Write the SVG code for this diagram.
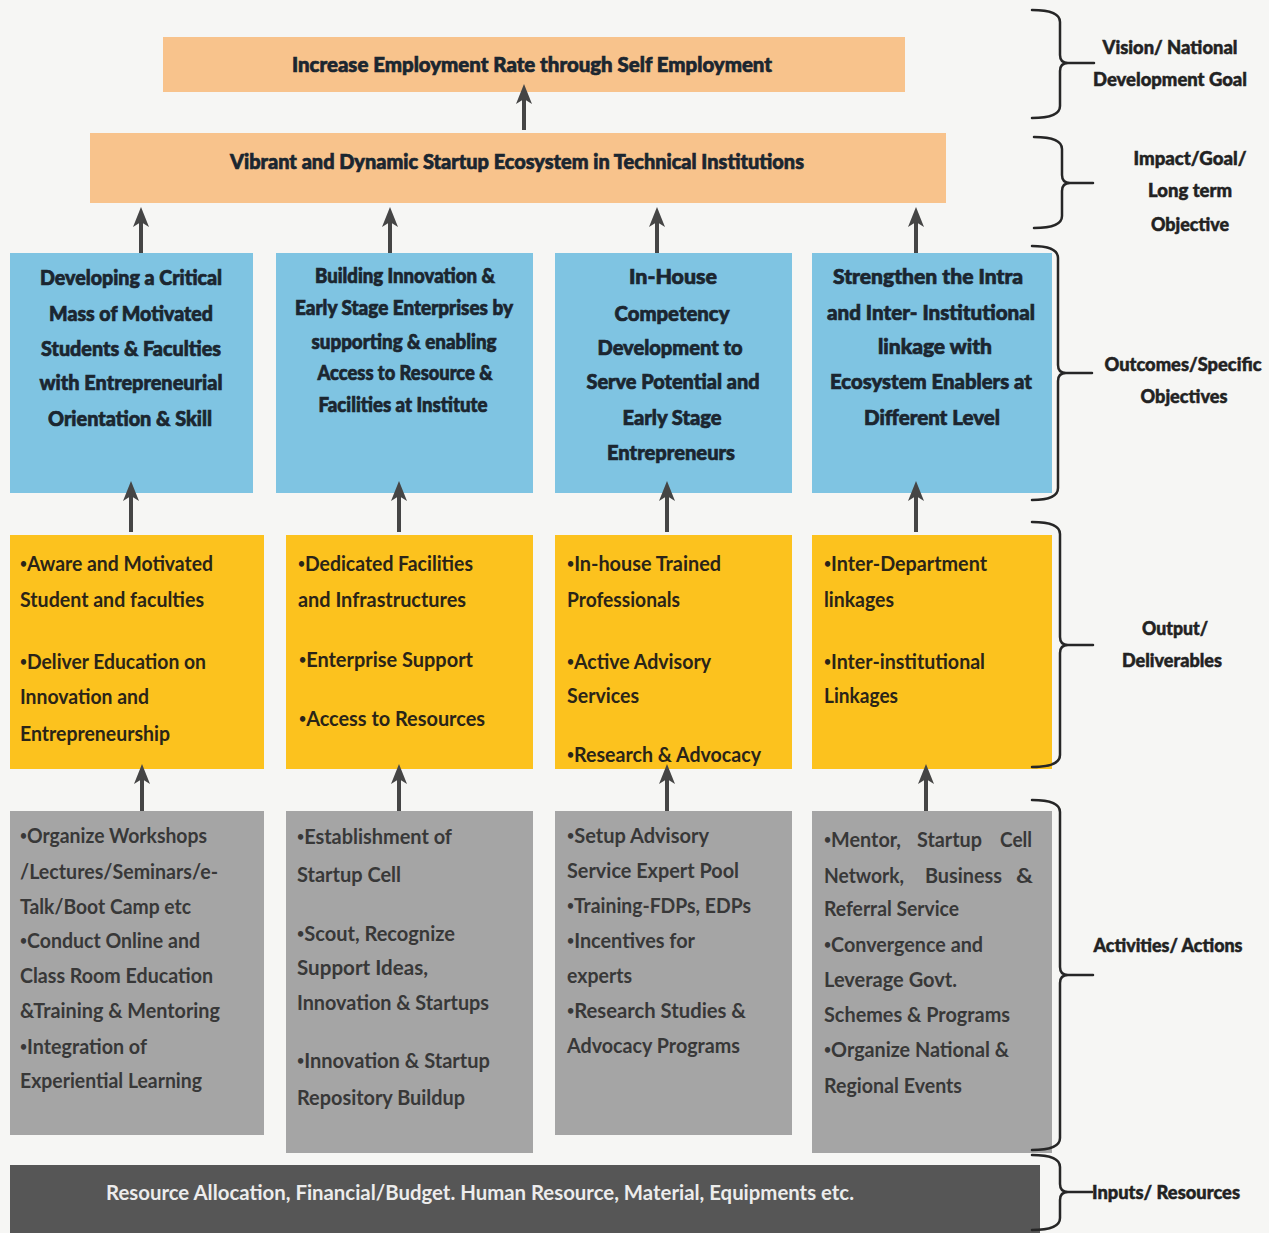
<svg xmlns="http://www.w3.org/2000/svg" width="1269" height="1233" viewBox="0 0 1269 1233">
  <style>
    .bg { fill: #f6f6f4; }
    .goal { fill: #f8c38c; }
    .blue { fill: #7fc4e2; }
    .yellow { fill: #fcc21e; }
    .gray { fill: #a5a5a5; }
    .dark { fill: #565656; }
    text { font-family: Lato, "Liberation Sans", sans-serif; }
    .h { font-size: 21px; font-weight: 900; fill: #1b2630; stroke: #1b2630; stroke-width: 0.7; text-anchor: middle; }
    .hs { font-size: 20px; font-weight: 900; fill: #1b2630; stroke: #1b2630; stroke-width: 0.7; text-anchor: middle; }
    .y { font-size: 21px; font-weight: 700; fill: #2a2418; }
    .g { font-size: 21px; font-weight: 700; fill: #383838; }
    .w { font-size: 20px; font-weight: 700; fill: #ececec; text-anchor: middle; }
    .lab { font-size: 19px; font-weight: 900; fill: #222; stroke: #222; stroke-width: 0.5; text-anchor: middle; }
    .b { font-size: 13px; }
    .brace { fill: none; stroke: #262626; stroke-width: 2.5; stroke-linecap: round; stroke-linejoin: round; }
    .conn { stroke: #454545; stroke-width: 4; }
  </style>
  <defs>
    <marker id="head" viewBox="0 0 20 20" refX="10" refY="10" markerWidth="20" markerHeight="20" markerUnits="userSpaceOnUse" orient="auto">
      <path d="M0,2 L20,10 L0,18 L5,10 Z" fill="#454545"/>
    </marker>
  </defs>

  <rect class="bg" x="0" y="0" width="1269" height="1233"/>

  <!-- goal level -->
  <g id="vision">
    <rect class="goal" x="163" y="37" width="742" height="55"/>
    <text class="h" x="532" y="72" textLength="480" lengthAdjust="spacingAndGlyphs">Increase Employment Rate through Self Employment</text>
  </g>
  <g id="impact">
    <rect class="goal" x="90" y="133" width="856" height="70"/>
    <text class="h" x="517" y="169" textLength="574" lengthAdjust="spacingAndGlyphs">Vibrant and Dynamic Startup Ecosystem in Technical Institutions</text>
  </g>

  <!-- outcomes -->
  <g id="outcome-1">
    <rect class="blue" x="10" y="253" width="243" height="240"/>
    <text class="h" x="131" y="285" textLength="182" lengthAdjust="spacingAndGlyphs">Developing a Critical</text>
    <text class="h" x="131" y="321" textLength="164" lengthAdjust="spacingAndGlyphs">Mass of Motivated</text>
    <text class="h" x="131" y="356" textLength="180" lengthAdjust="spacingAndGlyphs">Students &amp; Faculties</text>
    <text class="h" x="131" y="390" textLength="183" lengthAdjust="spacingAndGlyphs">with Entrepreneurial</text>
    <text class="h" x="130" y="426" textLength="164" lengthAdjust="spacingAndGlyphs">Orientation &amp; Skill</text>
  </g>
  <g id="outcome-2">
    <rect class="blue" x="276" y="253" width="257" height="240"/>
    <text class="hs" x="405" y="283" textLength="180" lengthAdjust="spacingAndGlyphs">Building Innovation &amp;</text>
    <text class="hs" x="404" y="315" textLength="218" lengthAdjust="spacingAndGlyphs">Early Stage  Enterprises by</text>
    <text class="hs" x="404" y="349" textLength="185" lengthAdjust="spacingAndGlyphs">supporting &amp; enabling</text>
    <text class="hs" x="405" y="380" textLength="175" lengthAdjust="spacingAndGlyphs">Access to Resource &amp;</text>
    <text class="hs" x="403" y="412" textLength="169" lengthAdjust="spacingAndGlyphs">Facilities at Institute</text>
  </g>
  <g id="outcome-3">
    <rect class="blue" x="555" y="253" width="237" height="240"/>
    <text class="h" x="673" y="284" textLength="88" lengthAdjust="spacingAndGlyphs">In-House</text>
    <text class="h" x="672" y="321" textLength="115" lengthAdjust="spacingAndGlyphs">Competency</text>
    <text class="h" x="670" y="355" textLength="145" lengthAdjust="spacingAndGlyphs">Development to</text>
    <text class="h" x="673" y="389" textLength="173" lengthAdjust="spacingAndGlyphs">Serve Potential and</text>
    <text class="h" x="672" y="425" textLength="99" lengthAdjust="spacingAndGlyphs">Early Stage</text>
    <text class="h" x="671" y="460" textLength="128" lengthAdjust="spacingAndGlyphs">Entrepreneurs</text>
  </g>
  <g id="outcome-4">
    <rect class="blue" x="812" y="253" width="240" height="240"/>
    <text class="h" x="928" y="284" textLength="190" lengthAdjust="spacingAndGlyphs">Strengthen the Intra</text>
    <text class="h" x="931" y="320" textLength="208" lengthAdjust="spacingAndGlyphs">and Inter- Institutional</text>
    <text class="h" x="935" y="354" textLength="114" lengthAdjust="spacingAndGlyphs">linkage  with</text>
    <text class="h" x="931" y="389" textLength="202" lengthAdjust="spacingAndGlyphs">Ecosystem  Enablers at</text>
    <text class="h" x="932" y="425" textLength="136" lengthAdjust="spacingAndGlyphs">Different  Level</text>
  </g>

  <!-- outputs -->
  <g id="output-1">
    <rect class="yellow" x="10" y="535" width="254" height="234"/>
    <text class="y" x="20" y="571" textLength="193" lengthAdjust="spacingAndGlyphs"><tspan class="b" baseline-shift="3">•</tspan>Aware and Motivated</text>
    <text class="y" x="20" y="607" textLength="184" lengthAdjust="spacingAndGlyphs">Student and faculties</text>
    <text class="y" x="20" y="669" textLength="186" lengthAdjust="spacingAndGlyphs"><tspan class="b" baseline-shift="3">•</tspan>Deliver Education on</text>
    <text class="y" x="20" y="704" textLength="129" lengthAdjust="spacingAndGlyphs">Innovation and</text>
    <text class="y" x="20" y="741" textLength="150" lengthAdjust="spacingAndGlyphs">Entrepreneurship</text>
  </g>
  <g id="output-2">
    <rect class="yellow" x="286" y="535" width="247" height="234"/>
    <text class="y" x="298" y="571" textLength="175" lengthAdjust="spacingAndGlyphs"><tspan class="b" baseline-shift="3">•</tspan>Dedicated Facilities</text>
    <text class="y" x="298" y="607" textLength="168" lengthAdjust="spacingAndGlyphs">and Infrastructures</text>
    <text class="y" x="299" y="667" textLength="174" lengthAdjust="spacingAndGlyphs"><tspan class="b" baseline-shift="3">•</tspan>Enterprise Support</text>
    <text class="y" x="299" y="726" textLength="186" lengthAdjust="spacingAndGlyphs"><tspan class="b" baseline-shift="3">•</tspan>Access to Resources</text>
  </g>
  <g id="output-3">
    <rect class="yellow" x="555" y="535" width="237" height="234"/>
    <text class="y" x="567" y="571" textLength="154" lengthAdjust="spacingAndGlyphs"><tspan class="b" baseline-shift="3">•</tspan>In-house Trained</text>
    <text class="y" x="567" y="607" textLength="113" lengthAdjust="spacingAndGlyphs">Professionals</text>
    <text class="y" x="567" y="669" textLength="144" lengthAdjust="spacingAndGlyphs"><tspan class="b" baseline-shift="3">•</tspan>Active Advisory</text>
    <text class="y" x="567" y="703" textLength="72" lengthAdjust="spacingAndGlyphs">Services</text>
    <text class="y" x="567" y="762" textLength="194" lengthAdjust="spacingAndGlyphs"><tspan class="b" baseline-shift="3">•</tspan>Research &amp; Advocacy</text>
  </g>
  <g id="output-4">
    <rect class="yellow" x="812" y="535" width="240" height="234"/>
    <text class="y" x="824" y="571" textLength="163" lengthAdjust="spacingAndGlyphs"><tspan class="b" baseline-shift="3">•</tspan>Inter-Department</text>
    <text class="y" x="824" y="607" textLength="70" lengthAdjust="spacingAndGlyphs">linkages</text>
    <text class="y" x="824" y="669" textLength="161" lengthAdjust="spacingAndGlyphs"><tspan class="b" baseline-shift="3">•</tspan>Inter-institutional</text>
    <text class="y" x="824" y="703" textLength="74" lengthAdjust="spacingAndGlyphs">Linkages</text>
  </g>

  <!-- activities -->
  <g id="activity-1">
    <rect class="gray" x="10" y="811" width="254" height="324"/>
    <text class="g" x="20" y="843" textLength="187" lengthAdjust="spacingAndGlyphs"><tspan class="b" baseline-shift="3">•</tspan>Organize Workshops</text>
    <text class="g" x="20" y="879" textLength="198" lengthAdjust="spacingAndGlyphs">/Lectures/Seminars/e-</text>
    <text class="g" x="20" y="914" textLength="171" lengthAdjust="spacingAndGlyphs">Talk/Boot Camp etc</text>
    <text class="g" x="20" y="948" textLength="180" lengthAdjust="spacingAndGlyphs"><tspan class="b" baseline-shift="3">•</tspan>Conduct Online and</text>
    <text class="g" x="20" y="983" textLength="193" lengthAdjust="spacingAndGlyphs">Class Room Education</text>
    <text class="g" x="20" y="1018" textLength="200" lengthAdjust="spacingAndGlyphs">&amp;Training &amp; Mentoring</text>
    <text class="g" x="20" y="1054" textLength="127" lengthAdjust="spacingAndGlyphs"><tspan class="b" baseline-shift="3">•</tspan>Integration of</text>
    <text class="g" x="20" y="1088" textLength="182" lengthAdjust="spacingAndGlyphs">Experiential Learning</text>
  </g>
  <g id="activity-2">
    <rect class="gray" x="286" y="811" width="247" height="342"/>
    <text class="g" x="297" y="844" textLength="155" lengthAdjust="spacingAndGlyphs"><tspan class="b" baseline-shift="3">•</tspan>Establishment of</text>
    <text class="g" x="297" y="882" textLength="104" lengthAdjust="spacingAndGlyphs">Startup Cell</text>
    <text class="g" x="297" y="941" textLength="158" lengthAdjust="spacingAndGlyphs"><tspan class="b" baseline-shift="3">•</tspan>Scout, Recognize</text>
    <text class="g" x="297" y="975" textLength="131" lengthAdjust="spacingAndGlyphs">Support Ideas,</text>
    <text class="g" x="297" y="1010" textLength="192" lengthAdjust="spacingAndGlyphs">Innovation &amp; Startups</text>
    <text class="g" x="297" y="1068" textLength="193" lengthAdjust="spacingAndGlyphs"><tspan class="b" baseline-shift="3">•</tspan>Innovation &amp; Startup</text>
    <text class="g" x="297" y="1105" textLength="168" lengthAdjust="spacingAndGlyphs">Repository Buildup</text>
  </g>
  <g id="activity-3">
    <rect class="gray" x="555" y="811" width="237" height="324"/>
    <text class="g" x="567" y="843" textLength="142" lengthAdjust="spacingAndGlyphs"><tspan class="b" baseline-shift="3">•</tspan>Setup Advisory</text>
    <text class="g" x="567" y="878" textLength="172" lengthAdjust="spacingAndGlyphs">Service Expert Pool</text>
    <text class="g" x="567" y="913" textLength="184" lengthAdjust="spacingAndGlyphs"><tspan class="b" baseline-shift="3">•</tspan>Training-FDPs, EDPs</text>
    <text class="g" x="567" y="948" textLength="128" lengthAdjust="spacingAndGlyphs"><tspan class="b" baseline-shift="3">•</tspan>Incentives for</text>
    <text class="g" x="567" y="983" textLength="65" lengthAdjust="spacingAndGlyphs">experts</text>
    <text class="g" x="567" y="1018" textLength="179" lengthAdjust="spacingAndGlyphs"><tspan class="b" baseline-shift="3">•</tspan>Research Studies &amp;</text>
    <text class="g" x="567" y="1053" textLength="173" lengthAdjust="spacingAndGlyphs">Advocacy Programs</text>
  </g>
  <g id="activity-4">
    <rect class="gray" x="812" y="811" width="240" height="342"/>
    <text class="g" x="824" y="847" textLength="77" lengthAdjust="spacingAndGlyphs"><tspan class="b" baseline-shift="3">•</tspan>Mentor,</text>
    <text class="g" x="917" y="847" textLength="65" lengthAdjust="spacingAndGlyphs">Startup</text>
    <text class="g" x="1000" y="847" textLength="32" lengthAdjust="spacingAndGlyphs">Cell</text>
    <text class="g" x="824" y="883" textLength="80" lengthAdjust="spacingAndGlyphs">Network,</text>
    <text class="g" x="925" y="883" textLength="77" lengthAdjust="spacingAndGlyphs">Business</text>
    <text class="g" x="1016" y="883" textLength="17" lengthAdjust="spacingAndGlyphs">&amp;</text>
    <text class="g" x="824" y="916" textLength="135" lengthAdjust="spacingAndGlyphs">Referral Service</text>
    <text class="g" x="824" y="952" textLength="159" lengthAdjust="spacingAndGlyphs"><tspan class="b" baseline-shift="3">•</tspan>Convergence and</text>
    <text class="g" x="824" y="987" textLength="133" lengthAdjust="spacingAndGlyphs">Leverage Govt.</text>
    <text class="g" x="824" y="1022" textLength="186" lengthAdjust="spacingAndGlyphs">Schemes &amp; Programs</text>
    <text class="g" x="824" y="1057" textLength="185" lengthAdjust="spacingAndGlyphs"><tspan class="b" baseline-shift="3">•</tspan>Organize National &amp;</text>
    <text class="g" x="824" y="1093" textLength="138" lengthAdjust="spacingAndGlyphs">Regional Events</text>
  </g>

  <!-- inputs -->
  <g id="inputs">
    <rect class="dark" x="10" y="1165" width="1030" height="68"/>
    <text class="w" x="480" y="1200" textLength="748" lengthAdjust="spacingAndGlyphs">Resource Allocation, Financial/Budget. Human Resource, Material, Equipments etc.</text>
  </g>

  <!-- upward connectors between levels -->
  <g id="connectors">
    <line class="conn" x1="524" y1="130" x2="524" y2="94" marker-end="url(#head)"/>
    <line class="conn" x1="141" y1="253" x2="141" y2="217" marker-end="url(#head)"/>
    <line class="conn" x1="390" y1="253" x2="390" y2="217" marker-end="url(#head)"/>
    <line class="conn" x1="657" y1="253" x2="657" y2="217" marker-end="url(#head)"/>
    <line class="conn" x1="916" y1="253" x2="916" y2="217" marker-end="url(#head)"/>
    <line class="conn" x1="131" y1="532" x2="131" y2="491" marker-end="url(#head)"/>
    <line class="conn" x1="399" y1="532" x2="399" y2="491" marker-end="url(#head)"/>
    <line class="conn" x1="667" y1="532" x2="667" y2="491" marker-end="url(#head)"/>
    <line class="conn" x1="916" y1="532" x2="916" y2="491" marker-end="url(#head)"/>
    <line class="conn" x1="142" y1="811" x2="142" y2="774" marker-end="url(#head)"/>
    <line class="conn" x1="399" y1="811" x2="399" y2="774" marker-end="url(#head)"/>
    <line class="conn" x1="667" y1="811" x2="667" y2="774" marker-end="url(#head)"/>
    <line class="conn" x1="926" y1="811" x2="926" y2="774" marker-end="url(#head)"/>
  </g>

  <!-- level braces -->
  <g id="braces">
    <path class="brace" d="M1032,10 Q1060,10 1060,22 L1060,55 Q1060,63 1068,63 L1094,63 M1068,63 Q1060,63 1060,71 L1060,106 Q1060,118 1032,118"/>
    <path class="brace" d="M1034,137 Q1062,137 1062,149 L1062,175 Q1062,183 1070,183 L1093,183 M1070,183 Q1062,183 1062,191 L1062,216 Q1062,228 1034,228"/>
    <path class="brace" d="M1032,246 Q1058,246 1058,258 L1058,365 Q1058,373 1066,373 L1092,373 M1066,373 Q1058,373 1058,381 L1058,488 Q1058,500 1032,500"/>
    <path class="brace" d="M1032,522 Q1060,522 1060,534 L1060,637 Q1060,645 1068,645 L1093,645 M1068,645 Q1060,645 1060,653 L1060,755 Q1060,767 1032,767"/>
    <path class="brace" d="M1032,800 Q1060,800 1060,812 L1060,967 Q1060,975 1068,975 L1093,975 M1068,975 Q1060,975 1060,983 L1060,1138 Q1060,1150 1032,1150"/>
    <path class="brace" d="M1032,1155 Q1060,1155 1060,1167 L1060,1184 Q1060,1192 1068,1192 L1092,1192 M1068,1192 Q1060,1192 1060,1200 L1060,1218 Q1060,1230 1032,1230"/>
  </g>

  <!-- level names -->
  <g id="level-labels">
    <text class="lab" x="1170" y="54" textLength="135" lengthAdjust="spacingAndGlyphs">Vision/ National</text>
    <text class="lab" x="1170" y="86" textLength="154" lengthAdjust="spacingAndGlyphs">Development Goal</text>
    <text class="lab" x="1190" y="165" textLength="113" lengthAdjust="spacingAndGlyphs">Impact/Goal/</text>
    <text class="lab" x="1190" y="197" textLength="84" lengthAdjust="spacingAndGlyphs">Long term</text>
    <text class="lab" x="1190" y="231" textLength="78" lengthAdjust="spacingAndGlyphs">Objective</text>
    <text class="lab" x="1183" y="371" textLength="157" lengthAdjust="spacingAndGlyphs">Outcomes/Specific</text>
    <text class="lab" x="1184" y="403" textLength="87" lengthAdjust="spacingAndGlyphs">Objectives</text>
    <text class="lab" x="1175" y="635" textLength="66" lengthAdjust="spacingAndGlyphs">Output/</text>
    <text class="lab" x="1172" y="667" textLength="100" lengthAdjust="spacingAndGlyphs">Deliverables</text>
    <text class="lab" x="1168" y="952" textLength="149" lengthAdjust="spacingAndGlyphs">Activities/ Actions</text>
    <text class="lab" x="1166" y="1199" textLength="148" lengthAdjust="spacingAndGlyphs">Inputs/ Resources</text>
  </g>
</svg>
